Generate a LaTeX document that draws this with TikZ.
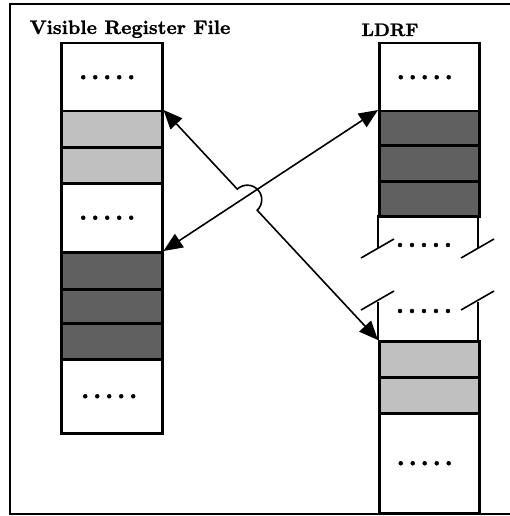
\documentclass[tikz,border=0pt]{standalone}
\usepackage{fontspec}
\newfontfamily\heavyfont{lmroman10-bold.otf}[FakeBold=1.3]
\usetikzlibrary{arrows.meta,calc}
\definecolor{lightcell}{HTML}{C0C0C0}
\definecolor{darkcell}{HTML}{606060}
\newcommand\dotrow{{\fontsize{26}{26}\selectfont\heavyfont .\kern3.7pt.\kern3.7pt.\kern3.7pt.\kern3.7pt.}}
\begin{document}
\begin{tikzpicture}[x=1pt,y=1pt,
  cellL/.style={draw, line width=2.5pt, inner sep=0pt, anchor=north west, minimum width=101pt},
  cellR/.style={draw, line width=2.5pt, inner sep=0pt, anchor=north west, minimum width=100pt},
  light/.style={fill=lightcell},
  dark/.style={fill=darkcell},
  dotsnode/.style={inner sep=0pt},
  title/.style={inner sep=0pt, anchor=base},
  link/.style={line width=1.6pt, {Triangle[length=19pt,width=16pt]}-{Triangle[length=19pt,width=16pt]}},
  brk/.style={line width=1.6pt},
  side/.style={line width=2.5pt},
  frame/.style={line width=1.6pt}]
\useasboundingbox (0,0) rectangle (509,-516);
\draw[frame] (516,-4) -- (10,-4) -- (10,-514) -- (516,-514);

% titles
\node[title, font=\fontsize{19.5}{19.5}\selectfont\heavyfont] (t1) at (130,-34) {Visible Register File};
\node[title, font=\fontsize{18}{18}\selectfont\heavyfont] (t2) at (390,-36) {LDRF};

% left column
\node[cellL, minimum height=68pt] (L1) at (60,-42) {\dotrow\kern9pt};
\node[cellL, light, minimum height=36pt] (L2) at (60,-110) {};
\node[cellL, light, minimum height=36pt] (L3) at (60,-146) {};
\node[cellL, minimum height=69pt] (L4) at (60,-182) {\dotrow\kern9pt};
\node[cellL, dark, minimum height=37pt] (L5) at (60,-251) {};
\node[cellL, dark, minimum height=34pt] (L6) at (60,-288) {};
\node[cellL, dark, minimum height=36pt] (L7) at (60,-322) {};
\node[cellL, minimum height=74pt] (L8) at (60,-358) {\dotrow\kern5pt};

% right column
\node[cellR, minimum height=68pt] (R1) at (378,-42) {\dotrow\kern9pt};
\node[cellR, dark, minimum height=34pt] (R2) at (378,-110) {};
\node[cellR, dark, minimum height=36pt] (R3) at (378,-144) {};
\node[cellR, dark, minimum height=35pt] (R4) at (378,-180) {};
\node[dotsnode] (d5) at (424,-245) {\dotrow};
\draw[side] (378,-215) -- (378,-248);
\draw[side] (478,-215) -- (478,-248);
\draw[brk] (361,-258) -- (394,-239);
\draw[brk] (461,-258) -- (494,-239);
\draw[brk] (361,-310) -- (394,-291);
\draw[brk] (461,-310) -- (494,-291);
\node[dotsnode] (d6) at (424,-311) {\dotrow};
\draw[side] (378,-302) -- (378,-340);
\draw[side] (478,-302) -- (478,-340);
\node[cellR, light, minimum height=36pt] (R7) at (378,-340) {};
\node[cellR, light, minimum height=36pt] (R8) at (378,-376) {};
\node[cellR, minimum height=100pt] (R9) at (378,-412) {\dotrow\kern9pt};

% connectors
\draw[link] (L5.north east) -- (R2.north west);
\coordinate (h1) at ($(L2.north east)!0.344!(R7.north west)$);
\draw[link] (L2.north east) -- (h1) arc[start angle=133.3, end angle=-46.7, radius=14.5] -- (R7.north west);
\end{tikzpicture}
\end{document}
